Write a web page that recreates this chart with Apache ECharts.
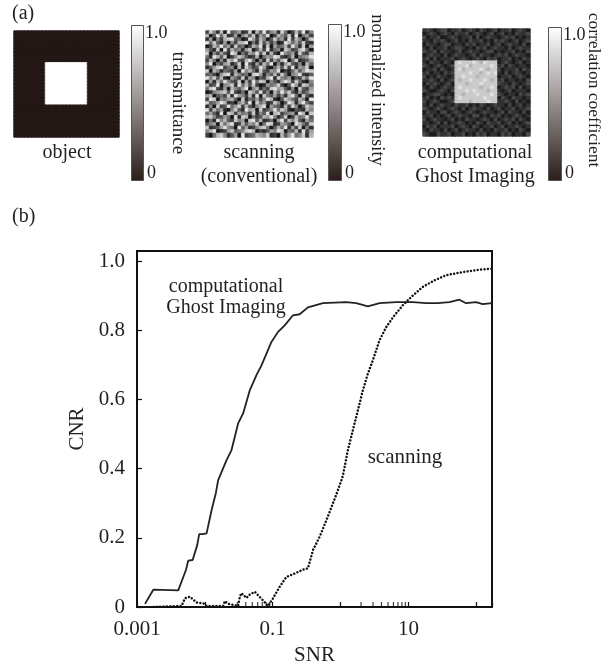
<!DOCTYPE html>
<html>
<head>
<meta charset="utf-8">
<script src="https://cdn.jsdelivr.net/npm/echarts@6/dist/echarts.min.js"></script>
<style>
html,body{margin:0;padding:0;background:#fff;}
#chart{width:615px;height:671px;}
</style>
</head>
<body>
<div id="chart"></div>
<script>
// ---------- part (a): image rows (one digit = one pixel level) ----------
const objectRows = [
"000000000000000000000000000000",
"000000000000000000000000000000",
"000000000000000000000000000000",
"000000000000000000000000000000",
"000000000000000000000000000000",
"000000000000000000000000000000",
"000000000000000000000000000000",
"000000000000000000000000000000",
"000000000000000000000000000000",
"000000000111111111111000000000",
"000000000111111111111000000000",
"000000000111111111111000000000",
"000000000111111111111000000000",
"000000000111111111111000000000",
"000000000111111111111000000000",
"000000000111111111111000000000",
"000000000111111111111000000000",
"000000000111111111111000000000",
"000000000111111111111000000000",
"000000000111111111111000000000",
"000000000111111111111000000000",
"000000000000000000000000000000",
"000000000000000000000000000000",
"000000000000000000000000000000",
"000000000000000000000000000000",
"000000000000000000000000000000",
"000000000000000000000000000000",
"000000000000000000000000000000",
"000000000000000000000000000000",
"000000000000000000000000000000"
];
const scanningRows = [
"285170934612807392561840273915",
"703948126057381649027538190462",
"160527893401962750384619275038",
"948316052779041836250197463821",
"027594618340275918063472951806",
"631809274516803729145086237940",
"805263197042659381720954618327",
"419738025863127046598213704569",
"274051869327940518263790481236",
"590426713809316274905168325074",
"136892450718523961047382916580",
"807514326095741832659021473698",
"342068917534089615372840569213",
"958371064281650327918546032749",
"061749532806294870531697284105",
"723905681947382016458203961874",
"489216075369057142896731508326",
"015678392140863925074958316247",
"670342819652719084362517940831",
"298054673081436259710386427509",
"834697120573908461285039716942",
"150823946827315790643172850386",
"927461058319670823594861032175",
"463190872645281539078245619708",
"785236409187042376951380274593",
"041957328560893712406927583164",
"356084791273658049812653097428",
"812369540936125784037491628051",
"579012683458970213659804371926",
"204785136092347658120736945817"
];
const ghostRows = [
"121012201120121021012011201210",
"012101210211201210120120102112",
"201120012101120201211012120101",
"110212101201021120102121012012",
"021101220110212011201201211020",
"102011201221010212012110201211",
"211202110120121101220101120102",
"012110201211012021101212012110",
"120201112012101210212011201021",
"102110210898889879888012101201",
"210121012888978888898120210110",
"011202101897888898788201112021",
"120110212888898878989102012101",
"201021101889888788888011201210",
"112102012878898889878120110102",
"021210120888788898888211021012",
"102101211898888878898012120201",
"210012102888989888788101201110",
"011221010887888988898210110212",
"120102121898888889888021021101",
"201210012888878888988112102010",
"102012110211201021012110201201",
"210121012102012110201201120112",
"021102201210121012110120211020",
"112010120121102201021201012101",
"201211012010211012102012120210",
"110120201121010210211201201012",
"021201112012102101120120112101",
"102110201201211020102112010210",
"210021120112010212011021201102"
];
const imageCaptions = ["object", "scanning\n(conventional)", "computational\nGhost Imaging"];
const colorbarTitles = ["transmittance", "normalized intensity", "correlation coefficient"];
const colorbarTicks = ["1.0", "0"];

// ---------- part (b): CNR vs SNR ----------
const cgiSNR = [0.00131,0.00174,0.00405,0.00526,0.00568,0.00660,0.00771,0.00825,0.00925,0.0106,
  0.01255,0.01452,0.0157,0.02085,0.0247,0.0309,0.0366,0.0459,0.0575,0.0683,
  0.0957,0.1197,0.150,0.199,0.249,0.330,0.550,1.21,1.70,2.52,
  3.75,6.59,11.6,18.2,27.0,40.1,56.2,70.6,99,124,170];
const cgiCNR = [0.009,0.050,0.048,0.107,0.134,0.136,0.179,0.211,0.211,0.213,
  0.28,0.33,0.367,0.425,0.454,0.531,0.560,0.627,0.671,0.699,
  0.767,0.796,0.815,0.844,0.847,0.867,0.879,0.882,0.879,0.870,
  0.879,0.882,0.882,0.879,0.879,0.882,0.889,0.879,0.882,0.876,0.879];
const scanSNR = [0.00174,0.00454,0.00508,0.00601,0.00755,0.00944,0.0106,0.0186,0.0197,0.0221,
  0.0309,0.0328,0.0346,0.0410,0.0459,0.0543,0.0712,0.0853,0.1009,0.1268,
  0.1589,0.211,0.2795,0.330,0.392,0.491,0.617,0.771,0.912,1.081,
  1.280,1.517,1.796,2.128,2.519,2.985,3.747,4.70,6.22,8.24,
  10.96,16.2,24.1,35.8,63.0,110.7,170];
const scanCNR = [0,0.003,0.025,0.030,0.013,0.011,0.003,0.003,0.017,0.009,
  0.003,0.030,0.040,0.026,0.036,0.044,0.020,0.003,0.025,0.059,
  0.087,0.097,0.108,0.112,0.165,0.203,0.251,0.30,0.338,0.38,
  0.454,0.512,0.569,0.627,0.675,0.714,0.772,0.810,0.844,0.873,
  0.897,0.926,0.945,0.960,0.969,0.976,0.979];
const xTickLabels = ["0.001", "0.1", "10"];
const yTickLabels = ["0", "0.2", "0.4", "0.6", "0.8", "1.0"];
const minorTickSNR = [0.03,0.04,0.05,0.06,0.07,0.08,0.09,2,3,4,5,6,7,8,9];
const seriesLabels = ["computational\nGhost Imaging", "scanning"];
const xAxisName = "SNR", yAxisName = "CNR";

// ---------- build ----------
const FONT = "'Liberation Serif', 'Times New Roman', serif";
const TXT = '#231f20';
const imgRanges = [
  {max: 1, colors: ['#231815', '#ffffff']},
  {max: 9, colors: ['#161616', '#e2e2e2']},
  {max: 9, colors: ['#1c1c1c', '#e0e0e0']}
];
function rowsToCells(rows, rng){
  const out = [];
  rows.forEach((r, i) => {
    for (let j = 0; j < r.length; j++) {
      const v = +r[j];
      out.push({value: [j, i, v],
        itemStyle: {borderWidth: 0.8, borderColor: echarts.color.lerp(v / rng.max, rng.colors)}});
    }
  });
  return out;
}
const nCols = objectRows[0].length;
const idx = Array.from({length: nCols}, (_, i) => String(i));

const imgGrids = [
  {left: 14, top: 31, width: 105, height: 106},
  {left: 206, top: 31, width: 107, height: 106},
  {left: 423, top: 29, width: 107, height: 107}
];
const grids = imgGrids.map(g => Object.assign({containLabel: false, show: false}, g));
grids.push({left: 137, top: 251, width: 355, height: 356, show: true, borderColor: '#111', borderWidth: 2});

const xAxes = [], yAxes = [];
for (let k = 0; k < 3; k++) {
  xAxes.push({type: 'category', gridIndex: k, data: idx, show: false});
  yAxes.push({type: 'category', gridIndex: k, data: idx, show: false, inverse: true});
}
xAxes.push({
  type: 'log', gridIndex: 3, min: 0.001, max: 170, logBase: 10,
  name: xAxisName, nameLocation: 'middle', nameGap: 36,
  nameTextStyle: {fontFamily: FONT, fontSize: 21, color: TXT},
  axisLine: {show: true, lineStyle: {color: '#111', width: 2}},
  axisTick: {show: true, inside: true, length: 5, lineStyle: {color: '#111', width: 1.2}},
  axisLabel: {
    fontFamily: FONT, fontSize: 21, color: TXT, margin: 12,
    formatter: v => { const s = String(parseFloat(Number(v).toPrecision(6))); return xTickLabels.includes(s) ? s : ''; }
  },
  splitLine: {show: false}
});
yAxes.push({
  type: 'value', gridIndex: 3, min: 0, max: 1.03, interval: 0.2,
  name: yAxisName, nameLocation: 'middle', nameGap: 44,
  nameTextStyle: {fontFamily: FONT, fontSize: 21, color: TXT},
  axisLine: {show: true, lineStyle: {color: '#111', width: 2}},
  axisTick: {show: true, inside: true, length: 5, lineStyle: {color: '#111', width: 1.2}},
  axisLabel: {
    fontFamily: FONT, fontSize: 21, color: TXT, margin: 12, showMaxLabel: false,
    formatter: v => { const s = v === 0 ? '0' : Number(v).toFixed(1); return yTickLabels.includes(s) && Math.abs(v*5 - Math.round(v*5)) < 1e-6 ? s : ''; }
  },
  splitLine: {show: false}
});

const series = [
  {type: 'heatmap', xAxisIndex: 0, yAxisIndex: 0, data: rowsToCells(objectRows, imgRanges[0]), emphasis: {disabled: true}, silent: true},
  {type: 'heatmap', xAxisIndex: 1, yAxisIndex: 1, data: rowsToCells(scanningRows, imgRanges[1]), emphasis: {disabled: true}, silent: true},
  {type: 'heatmap', xAxisIndex: 2, yAxisIndex: 2, data: rowsToCells(ghostRows, imgRanges[2]), emphasis: {disabled: true}, silent: true},
  {type: 'line', xAxisIndex: 3, yAxisIndex: 3, data: cgiSNR.map((x, i) => [x, cgiCNR[i]]),
   showSymbol: false, symbol: 'none', lineStyle: {color: '#222', width: 1.8}, z: 3, silent: true},
  {type: 'line', xAxisIndex: 3, yAxisIndex: 3, data: scanSNR.map((x, i) => [x, scanCNR[i]]),
   showSymbol: false, symbol: 'none', lineStyle: {color: '#111', width: 2.5, type: [0.01, 3.4], cap: 'round'}, z: 3, silent: true},
  {type: 'scatter', xAxisIndex: 3, yAxisIndex: 3, data: minorTickSNR.map(x => [x, 0]),
   symbol: 'rect', symbolSize: [1.2, 5], symbolOffset: [0, -2.5], itemStyle: {color: '#111'}, silent: true, z: 4}
];

const visualMaps = imgRanges.map((r, k) => ({show: false, seriesIndex: k, dimension: 2, min: 0, max: r.max, inRange: {color: r.colors}}));

function txt(text, x, y, size, align, valign, extra) {
  return Object.assign({type: 'text', x: x, y: y, silent: true,
    style: {text: text, fontFamily: FONT, fontSize: size, fill: TXT, align: align || 'left', verticalAlign: valign || 'top'}}, extra || {});
}
const bars = [
  {x: 131, y: 25, w: 12, h: 155, tx: 145, title: {x: 178, y: 103, size: 19}},
  {x: 328, y: 24, w: 13, h: 156, tx: 343, title: {x: 377, y: 90, size: 18.5}},
  {x: 548, y: 27, w: 13, h: 153, tx: 563, title: {x: 594, y: 90, size: 17.5}}
];
const graphic = [];
graphic.push(txt('(a)', 12, 4, 20));
graphic.push(txt('(b)', 12, 207, 20));
bars.forEach((b, k) => {
  graphic.push({type: 'rect', silent: true, shape: {x: b.x + 0.5, y: b.y + 0.5, width: b.w, height: b.h},
    style: {fill: new echarts.graphic.LinearGradient(0, 0, 0, 1, [{offset: 0, color: '#ffffff'}, {offset: 1, color: '#2a1d1a'}]),
            stroke: '#555', lineWidth: 1}});
  graphic.push(txt(colorbarTicks[0], b.tx, b.y - 1, 18, 'left', 'top'));
  graphic.push(txt(colorbarTicks[1], b.tx + 2, b.y + b.h + 2, 18, 'left', 'bottom'));
  graphic.push(txt(colorbarTitles[k], b.title.x, b.title.y, b.title.size, 'center', 'middle', {rotation: -Math.PI / 2}));
});
const capCenters = [67, 259, 475];
imageCaptions.forEach((c, k) => {
  c.split('\n').forEach((line, j) => graphic.push(txt(line, capCenters[k], 153 + j * 24, 20, 'center', 'middle')));
});
seriesLabels[0].split('\n').forEach((line, j) => graphic.push(txt(line, 226, 287 + j * 21, 20, 'center', 'middle')));
graphic.push(txt(seriesLabels[1], 405, 457, 21, 'center', 'middle'));

const chart = echarts.init(document.getElementById('chart'), null, {renderer: 'canvas'});
chart.setOption({
  animation: false,
  backgroundColor: '#ffffff',
  textStyle: {fontFamily: FONT},
  grid: grids,
  xAxis: xAxes,
  yAxis: yAxes,
  visualMap: visualMaps,
  series: series,
  graphic: graphic
});
</script>
</body>
</html>
